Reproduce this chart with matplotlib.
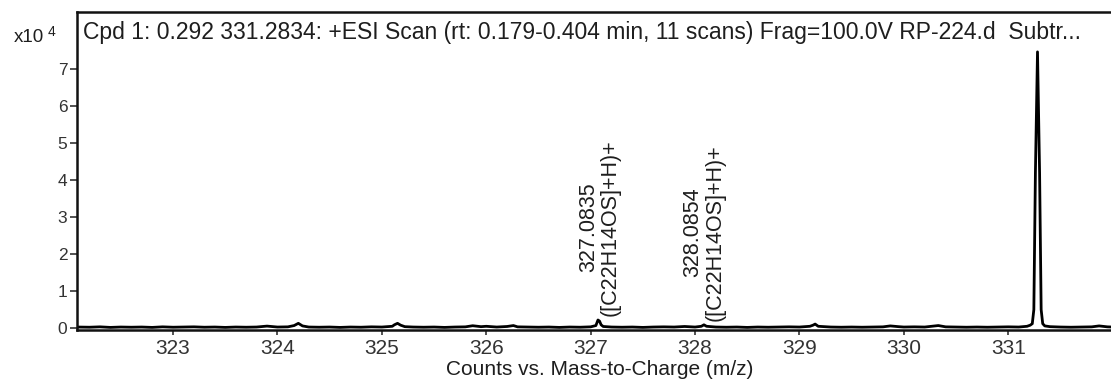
import matplotlib
matplotlib.use("Agg")
import matplotlib.pyplot as plt
import numpy as np

# ---------------- data ----------------
title_text = ("Cpd 1: 0.292 331.2834: +ESI Scan (rt: 0.179-0.404 min, 11 scans) "
              "Frag=100.0V RP-224.d  Subtr...")
x_label = "Counts vs. Mass-to-Charge (m/z)"
x_ticks = [323, 324, 325, 326, 327, 328, 329, 330, 331]
y_ticks = [0, 1, 2, 3, 4, 5, 6, 7]
y_scale_exp = 4

# profile spectrum (m/z, counts)
mz = [322.08, 322.2, 322.3, 322.4, 322.5, 322.6, 322.7, 322.8, 322.9, 323.0,
      323.1, 323.2, 323.3, 323.4, 323.5, 323.6, 323.7, 323.8, 323.9, 324.0,
      324.1, 324.16, 324.2, 324.24, 324.3, 324.4, 324.5, 324.6, 324.7, 324.8,
      324.9, 325.0, 325.1, 325.12, 325.15, 325.18, 325.22, 325.3, 325.4, 325.5,
      325.6, 325.7, 325.8, 325.87, 325.95, 326.0, 326.1, 326.2, 326.26, 326.3,
      326.4, 326.5, 326.6, 326.7, 326.8, 326.9, 327.0, 327.05, 327.07, 327.085,
      327.1, 327.12, 327.2, 327.3, 327.4, 327.5, 327.6, 327.7, 327.8, 327.9,
      328.0, 328.06, 328.085, 328.11, 328.2, 328.3, 328.4, 328.5, 328.6, 328.7,
      328.8, 328.9, 329.0, 329.1, 329.13, 329.15, 329.18, 329.3, 329.4, 329.5,
      329.6, 329.7, 329.8, 329.87, 329.95, 330.0, 330.1, 330.2, 330.33, 330.4,
      330.5, 330.6, 330.7, 330.8, 330.9, 331.0, 331.1, 331.18, 331.21, 331.23,
      331.245, 331.26, 331.28, 331.30, 331.315, 331.33, 331.35, 331.4, 331.5,
      331.6, 331.7, 331.8, 331.87, 331.95, 332.0]
counts = [300, 250, 350, 200, 300, 250, 300, 200, 350, 250,
          300, 350, 250, 300, 200, 300, 250, 300, 550, 300,
          350, 700, 1300, 600, 300, 250, 300, 200, 300, 250,
          350, 300, 500, 900, 1300, 800, 400, 300, 250, 300,
          200, 300, 350, 650, 400, 500, 300, 450, 700, 350,
          300, 250, 300, 200, 300, 250, 350, 700, 2200, 1900,
          900, 450, 300, 250, 300, 200, 300, 350, 300, 450,
          300, 500, 900, 500, 300, 250, 300, 200, 300, 250,
          300, 350, 300, 500, 800, 1100, 500, 300, 250, 300,
          250, 300, 350, 600, 400, 300, 350, 300, 700, 350,
          300, 250, 300, 250, 300, 350, 300, 500, 800, 1200,
          5000, 42000, 74600, 42000, 5000, 1200, 600, 400, 300,
          250, 300, 350, 600, 350, 300]

peak_labels = [(327.0835, 2200, "327.0835\n([C22H14OS]+H)+"),
               (328.0854, 900, "328.0854\n([C22H14OS]+H)+")]

# ---------------- figure ----------------
W, H = 1111, 381
fig = plt.figure(figsize=(W / 100, H / 100), dpi=100)
plt.rcParams['font.family'] = ['Liberation Sans', 'DejaVu Sans']
txt_color = '#1e1e1e'

left_px, right_px, top_px, bottom_px = 77, 1111, 11.5, 330
ax = fig.add_axes([left_px / W, 1 - bottom_px / H,
                   (right_px - left_px) / W, (bottom_px - top_px) / H])

scale = 10 ** y_scale_exp
y = np.array(counts) / scale
ax.plot(mz, y, color='black', lw=2.0, solid_joinstyle='round')

ax.set_xlim(322.08, 331.984)
ax.set_ylim(-0.05, 8.55)

ax.set_xticks(x_ticks)
ax.set_xticklabels([str(t) for t in x_ticks], fontsize=15, color='#333333')
ax.set_yticks(y_ticks)
ax.set_yticklabels([str(t) for t in y_ticks], fontsize=12.5, color='#333333')
ax.tick_params(axis='x', direction='out', length=3.5, width=1.2, pad=3, color='#333333')
ax.tick_params(axis='y', direction='out', length=5, width=1.2, pad=2, color='#333333')

for s in ['left', 'top', 'bottom']:
    ax.spines[s].set_linewidth(1.8)
    ax.spines[s].set_color('#111111')
ax.spines['right'].set_visible(False)

# x label placed in figure pixels
fig.text(600 / W, 1 - 369.5 / H, x_label, fontsize=15, color=txt_color,
         ha='center', va='center')

# title inside frame
fig.text(83 / W, 1 - 32 / H, title_text, fontsize=16.5, color=txt_color,
         ha='left', va='center')

# exponent marker
fig.text(44 / W, 1 - 38 / H, "x10", fontsize=13.5, color=txt_color, ha='right', va='center')
fig.text(48 / W, 1 - 32 / H, str(y_scale_exp), fontsize=10, color=txt_color, ha='left', va='center')

for xm, hc, lab in peak_labels:
    ax.annotate(lab, xy=(xm, hc / scale), xytext=(0, 3), textcoords='offset points',
                rotation=90, ha='center', va='bottom', fontsize=15.5,
                color=txt_color, linespacing=1.05, multialignment='center')

fig.savefig("out.png", dpi=100)
